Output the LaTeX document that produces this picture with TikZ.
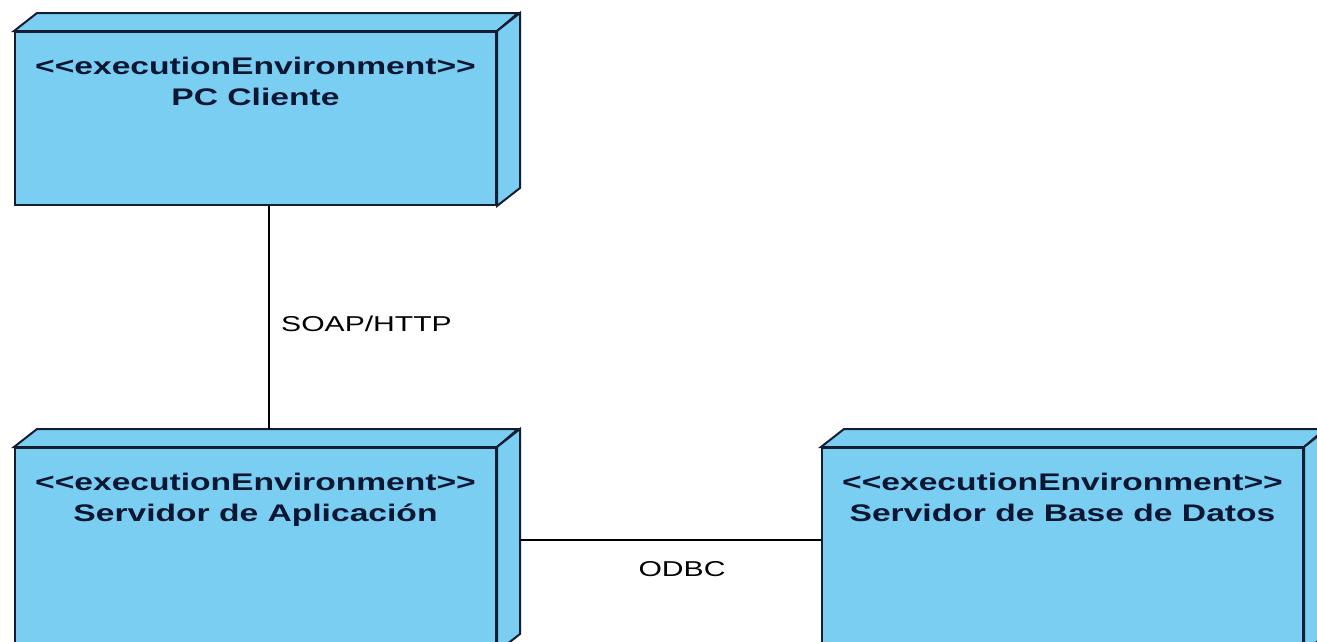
\documentclass[tikz,border=0pt]{standalone}
\usepackage{fontspec}
\newfontfamily\umlfont[FakeStretch=1.4]{Liberation Sans}
\usetikzlibrary{calc}
\definecolor{nodefill}{RGB}{122,206,242}
\definecolor{nodeline}{RGB}{20,30,50}
\definecolor{nodetext}{RGB}{10,22,50}
\tikzset{
  envbox/.style={draw=nodeline, fill=nodefill, line width=2pt, rectangle,
    minimum width=481pt, anchor=north west, inner sep=0pt},
  envtext/.style={anchor=north, inner sep=0pt, align=center, text=nodetext,
    font=\umlfont\bfseries\fontsize{24}{31}\selectfont},
  face/.style={draw=nodeline, fill=nodefill, line width=2pt, line join=miter},
  link/.style={draw=black, line width=2pt},
  linklabel/.style={inner sep=0pt, text=black, font=\umlfont\fontsize{21.5}{26}\selectfont}
}
\newcommand{\umlfaces}[1]{%
  \path[face] (#1.north west) -- ++(23,-18) -- ++(481,0) -- (#1.north east) -- cycle;
  \path[face] (#1.north east) -- ++(23,-18) |- ($(#1.south east)+(23,-18)$) -- (#1.south east) -- cycle;
}
\begin{document}
\begin{tikzpicture}[x=1pt,y=-1pt]
\useasboundingbox (0,0) rectangle (1317,641);
\fill[white] (0,0) rectangle (1317,641);
\clip (0,0) rectangle (1317,641);
% nodes
\node[envbox, minimum height=173pt] (pc) at (14,31) {};
\umlfaces{pc}
\node[envtext] (pct) at ($(pc.north)+(0,26)$) {<<executionEnvironment>>\\PC Cliente};

\node[envbox, minimum height=203pt] (app) at (14,447) {};
\umlfaces{app}
\node[envtext] (appt) at ($(app.north)+(0,26)$) {<<executionEnvironment>>\\Servidor de Aplicación};

\node[envbox, minimum height=203pt] (db) at (821,447) {};
\umlfaces{db}
\node[envtext] (dbt) at ($(db.north)+(0,26)$) {<<executionEnvironment>>\\Servidor de Base de Datos};

% connectors
\coordinate (pcb) at ($(pc.south)+(13,0)$);
\coordinate (appb) at ($(app.north)+(13,-18)$);
\draw[link] (pcb) -- (appb);
\coordinate (appr) at ($(app.east)+(23,-10)$);
\coordinate (dbl) at ($(db.west)+(0,-10)$);
\draw[link] (appr) -- (dbl);
\node[linklabel, anchor=west] (soap) at (281,324) {SOAP/HTTP};
\node[linklabel] (odbc) at (682,569) {ODBC};
\end{tikzpicture}
\end{document}
